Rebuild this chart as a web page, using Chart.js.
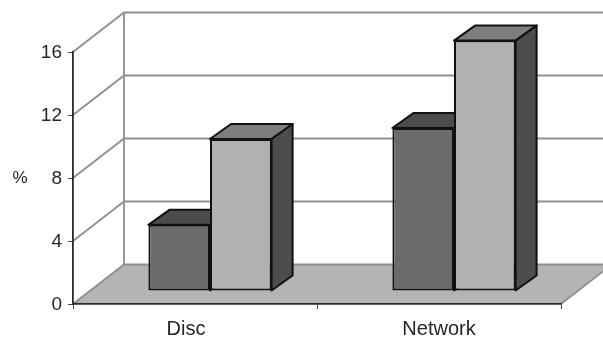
<!DOCTYPE html>
<html><head><meta charset="utf-8">
<style>html,body{margin:0;padding:0;background:#fff}canvas{display:block}</style>
<script src="https://cdn.jsdelivr.net/npm/chart.js@4/dist/chart.umd.min.js"></script>
</head><body><canvas id="c" width="603" height="337"></canvas>
<script>
const categories = ["Disc", "Network"];
const seriesA = [4.2, 10.35];
const seriesB = [9.65, 15.9];
const yMax = 16, yStep = 4;
const yLabel = "%";

const FONT = '"Liberation Sans", Arial, sans-serif';
const labelNudge = [-9, 0];
const wall = {dx: 51, dy: -39.5};
const barShift = {dx: 15, dy: -13};
const barDepth = {dx: 21, dy: -15};
const colors = {
  front: ["#6b6b6b", "#b1b1b1"],
  top: ["#4c4c4c", "#7e7e7e"],
  side: ["#3f3f3f", "#4d4d4d"],
  edge: "#111",
  grid: "#8f8f8f",
  floor: "#b4b4b4",
  text: "#262626"
};

function poly(ctx, pts, fill, stroke, w) {
  ctx.beginPath();
  pts.forEach((p, i) => i ? ctx.lineTo(p[0], p[1]) : ctx.moveTo(p[0], p[1]));
  ctx.closePath();
  if (fill) { ctx.fillStyle = fill; ctx.fill(); }
  if (stroke) { ctx.strokeStyle = stroke; ctx.lineWidth = w; ctx.lineJoin = "round"; ctx.stroke(); }
}

const scene = {
  id: "scene",
  beforeDraw(chart) {
    const {ctx, scales: {x, y}} = chart;
    const L = x.left, R = x.right, Y0 = y.getPixelForValue(0);
    ctx.save();
    poly(ctx, [[L, Y0], [L + wall.dx, Y0 + wall.dy], [R + wall.dx, Y0 + wall.dy], [R, Y0]], colors.floor);
    ctx.strokeStyle = colors.grid; ctx.lineWidth = 1.8;
    for (let v = 0; v <= yMax; v += yStep) {
      const p = y.getPixelForValue(v);
      ctx.beginPath();
      ctx.moveTo(L, p);
      ctx.lineTo(L + wall.dx, p + wall.dy);
      ctx.lineTo(R + wall.dx, p + wall.dy);
      ctx.stroke();
    }
    ctx.beginPath();
    ctx.moveTo(L + wall.dx, y.getPixelForValue(yMax) + wall.dy);
    ctx.lineTo(L + wall.dx, Y0 + wall.dy);
    ctx.moveTo(R, Y0);
    ctx.lineTo(R + wall.dx, Y0 + wall.dy);
    ctx.stroke();
    ctx.fillStyle = colors.text;
    ctx.textAlign = "center"; ctx.textBaseline = "middle";
    ctx.font = "17px " + FONT;
    ctx.fillText(yLabel, 20, (y.top + y.bottom) / 2);
    ctx.font = "20px " + FONT;
    categories.forEach((c, i) => ctx.fillText(c, x.getPixelForValue(i) + labelNudge[i], y.bottom + 25));
    ctx.restore();
  },
  beforeDatasetsDraw(chart) {
    const {ctx} = chart;
    ctx.save();
    ctx.translate(barShift.dx, barShift.dy);
    chart.data.datasets.forEach((d, di) => {
      chart.getDatasetMeta(di).data.forEach(b => {
        const l = b.x - b.width / 2, r = b.x + b.width / 2, t = b.y, bt = b.base;
        const ddx = barDepth.dx, ddy = barDepth.dy;
        poly(ctx, [[l, t], [l + ddx, t + ddy], [r + ddx, t + ddy], [r, t]], colors.top[di], colors.edge, 2);
        poly(ctx, [[r, t], [r + ddx, t + ddy], [r + ddx, bt + ddy], [r, bt]], colors.side[di], colors.edge, 2);
      });
    });
  },
  afterDatasetsDraw(chart) { chart.ctx.restore(); }
};

new Chart(document.getElementById("c"), {
  type: "bar",
  data: {
    labels: categories,
    datasets: [
      {data: seriesA, backgroundColor: colors.front[0], borderColor: colors.edge, borderWidth: 2, borderSkipped: false},
      {data: seriesB, backgroundColor: colors.front[1], borderColor: colors.edge, borderWidth: 2, borderSkipped: false}
    ]
  },
  plugins: [scene],
  options: {
    responsive: false,
    animation: false,
    events: [],
    clip: false,
    layout: {padding: {left: 0, right: 42, top: 52, bottom: 0}},
    plugins: {legend: {display: false}, tooltip: {enabled: false}, title: {display: false}},
    datasets: {bar: {categoryPercentage: 0.505, barPercentage: 1}},
    scales: {
      x: {
        grid: {drawOnChartArea: false, drawTicks: true, tickLength: 5, color: "#444", offset: true},
        border: {color: "#2a2a2a", width: 1.8},
        ticks: {display: false},
        afterFit(s) { s.height = 33; }
      },
      y: {
        min: 0, max: yMax,
        grid: {drawOnChartArea: false, drawTicks: true, tickLength: 5, color: "#444"},
        border: {color: "#2a2a2a", width: 1.8},
        ticks: {stepSize: yStep, color: colors.text, font: {family: FONT, size: 19}, padding: 6, labelOffset: 1},
        afterFit(s) { s.width = 73; }
      }
    }
  }
});
</script></body></html>
